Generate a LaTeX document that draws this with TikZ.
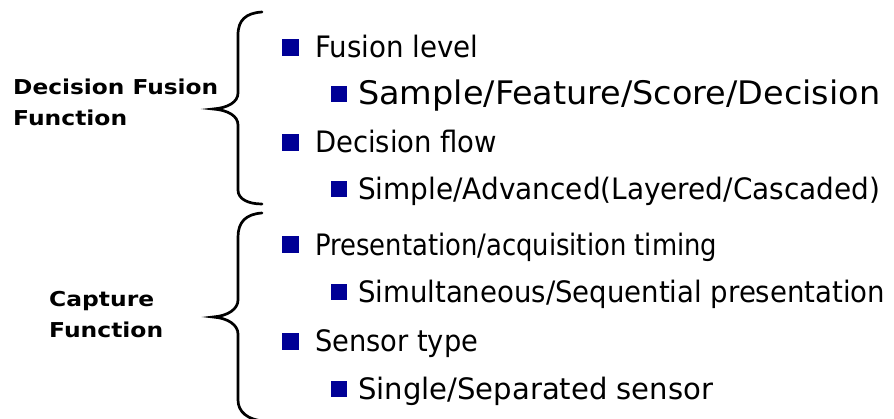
\documentclass[tikz,border=0pt]{standalone}
\usepackage{fontspec}
\setmainfont{DejaVu Sans Condensed}
\newfontfamily\labelfont{DejaVu Sans}
\definecolor{bulletblue}{RGB}{0,0,150}
% set a line of text to a given width, keeping its height
\newcommand\fitto[2]{\resizebox{#1}{\height}{#2}}
\begin{document}
\begin{tikzpicture}[x=1pt,y=-1pt,
  brace/.style={line width=2.7pt,line cap=round},
  lvlone/.style={anchor=base west,inner sep=0pt,font=\fontsize{29.5}{34}\selectfont},
  lvltwo/.style={anchor=base west,inner sep=0pt,font=\fontsize{29.5}{34}\selectfont},
  grouplabel/.style={anchor=base west,inner sep=0pt,font=\labelfont\fontsize{20.5}{24}\selectfont\bfseries},
  bigsq/.style={fill=bulletblue,minimum size=17pt,inner sep=0pt},
  smallsq/.style={fill=bulletblue,minimum size=16pt,inner sep=0pt}]
\useasboundingbox (0,0) rectangle (894,419);

% group labels
\node[grouplabel] (dff1) at (13,95) {\fitto{205pt}{Decision Fusion}};
\node[grouplabel] (dff2) at (13,126) {\fitto{114pt}{Function}};
\node[grouplabel] (cap1) at (49,307) {\fitto{105pt}{Capture}};
\node[grouplabel] (cap2) at (49,338) {\fitto{114pt}{Function}};

% braces
\draw[brace] (262,12) .. controls (246,13) and (238,20) .. (238,35)
  -- (238,93) .. controls (238,102) and (228,108) .. (213,109)
  .. controls (228,110) and (238,116) .. (238,125)
  -- (238,190) .. controls (238,199) and (248,204) .. (262,204);
\draw[brace] (262,213) .. controls (246,214) and (238,222) .. (238,237)
  -- (238,300) .. controls (238,309) and (228,316) .. (213,317)
  .. controls (228,318) and (238,325) .. (238,334)
  -- (238,400) .. controls (238,412) and (248,420) .. (264,421);

% first group
\node[bigsq] (b1) at (290.5,47.5) {};
\node[lvlone] (t1) at (315,58) {\fitto{163pt}{Fusion level}};
\node[smallsq] (b2) at (338.5,94.5) {};
\node[lvltwo] (t2) at (358,105) {\resizebox{522pt}{1.1\height}{Sample/Feature/Score/Decision}};
\node[bigsq] (b3) at (290.5,142.5) {};
\node[lvlone] (t3) at (315,153) {\fitto{182pt}{Decision flow}};
\node[smallsq] (b4) at (338.5,189.5) {};
\node[lvltwo] (t4) at (358,200) {\fitto{522pt}{Simple/Advanced(Layered/Cascaded)}};

% second group
\node[bigsq] (b5) at (290.5,245) {};
\node[lvlone] (t5) at (315,255.5) {\fitto{402pt}{Presentation/acquisition timing}};
\node[smallsq] (b6) at (338.5,292) {};
\node[lvltwo] (t6) at (358,302.5) {\fitto{527pt}{Simultaneous/Sequential presentation}};
\node[bigsq] (b7) at (290.5,341.5) {};
\node[lvlone] (t7) at (315,352) {\fitto{163pt}{Sensor type}};
\node[smallsq] (b8) at (338.5,389) {};
\node[lvltwo] (t8) at (358,399.5) {\fitto{355pt}{Single/Separated sensor}};
\end{tikzpicture}
\end{document}
